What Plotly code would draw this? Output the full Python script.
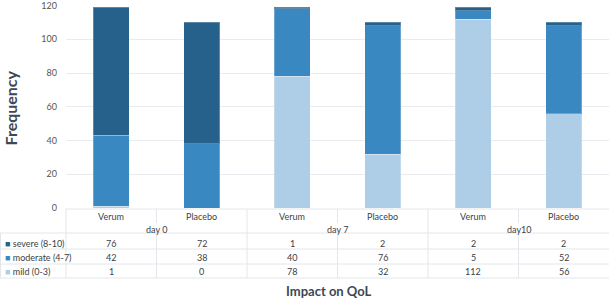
import plotly.graph_objects as go

groups = ["day 0", "day 7", "day10"]
arms = ["Verum", "Placebo", "Verum", "Placebo", "Verum", "Placebo"]
series_names = ["severe (8-10)", "moderate (4-7)", "mild (0-3)"]
severe = [76, 72, 1, 2, 2, 2]
moderate = [42, 38, 40, 76, 5, 52]
mild = [1, 0, 78, 32, 112, 56]
colors = {"severe (8-10)": "#26618c", "moderate (4-7)": "#3a88c2", "mild (0-3)": "#aecde6"}
yticks = [0, 20, 40, 60, 80, 100, 120]

W, H = 609, 299
L, R, T, B = 66, 0, 5, 91
plot_h = H - T - B
plot_w = W - L - R

def py(px):  # pixel y -> paper
    return (H - B - px) / plot_h

def pxp(px):  # pixel x -> paper
    return (px - L) / plot_w

xs = list(range(len(arms)))
values = {"severe (8-10)": severe, "moderate (4-7)": moderate, "mild (0-3)": mild}

fig = go.Figure()
for name in ["mild (0-3)", "moderate (4-7)", "severe (8-10)"]:
    fig.add_trace(go.Bar(x=xs, y=values[name], name=name, width=0.4,
                         marker=dict(color=colors[name],
                                     line=dict(color="rgba(255,255,255,0.25)", width=1)),
                         showlegend=False))

font = "Lato, 'Open Sans', sans-serif"
tc = "#3a3f47"
ann = []
def add(x, y, text, xref="paper", size=9, color=tc, xanchor="center", **kw):
    ann.append(dict(x=x, y=y, xref=xref, yref="paper", text=text, showarrow=False,
                    xanchor=xanchor, yanchor="middle",
                    font=dict(size=size, color=color, family=font), **kw))

for i, a in enumerate(arms):
    add(i, py(216), a, xref="x")
for g, name in enumerate(groups):
    add(2 * g + 0.5, py(229), name, xref="x")
row_y = [243, 257, 271.5]
for r, name in enumerate(series_names):
    add(pxp(3), py(row_y[r]), '<span style="color:%s">■</span> %s' % (colors[name], name), xanchor="left")
    for i, v in enumerate(values[name]):
        add(i, py(row_y[r]), str(v), xref="x")
add(pxp(328.5), py(291), "<b>Impact on QoL</b>", size=13, color="#3d4756")
add(pxp(10.5), py(108), "<b>Frequency</b>", size=16, color="#3d4756", textangle=-90, borderpad=0)

lc = "#e3e6ea"
shapes = []
def hline(y, x0, x1):
    shapes.append(dict(type="line", xref="paper", yref="paper", x0=pxp(x0), x1=pxp(x1), y0=py(y), y1=py(y),
                       line=dict(color=lc, width=1)))
def vline(xp, y0, y1):
    shapes.append(dict(type="line", xref="paper", yref="paper", x0=pxp(xp), x1=pxp(xp), y0=py(y0), y1=py(y1),
                       line=dict(color=lc, width=1)))
hline(209, 66, 609)
for y in [233, 249, 264, 278]:
    hline(y, 0, 609)
vline(0.5, 233, 278)
vline(66, 209, 278)
colw = plot_w / 6
for k in range(1, 6):
    xp = L + k * colw
    if k % 2 == 0:
        vline(xp, 209, 278)
    else:
        vline(xp, 209, 223)
        vline(xp, 233, 278)

fig.update_layout(
    width=W, height=H, margin=dict(l=L, r=R, t=T, b=B),
    barmode="stack", bargap=0.6,
    plot_bgcolor="white", paper_bgcolor="white",
    xaxis=dict(range=[-0.5, 5.5], showticklabels=False, showgrid=False, zeroline=False, ticks=""),
    yaxis=dict(range=[0, 120.3], tickvals=yticks, showgrid=True, gridcolor="#e8ebef", zeroline=False,
               tickfont=dict(size=9, color="#555555", family=font), ticks="", ticklabelstandoff=8,
               ticklabeloverflow="allow", automargin=False),
    annotations=ann, shapes=shapes,
)
fig.write_html("out.html", config={"displayModeBar": False},
               post_script="document.body.style.margin='0';document.body.style.overflow='hidden';")
